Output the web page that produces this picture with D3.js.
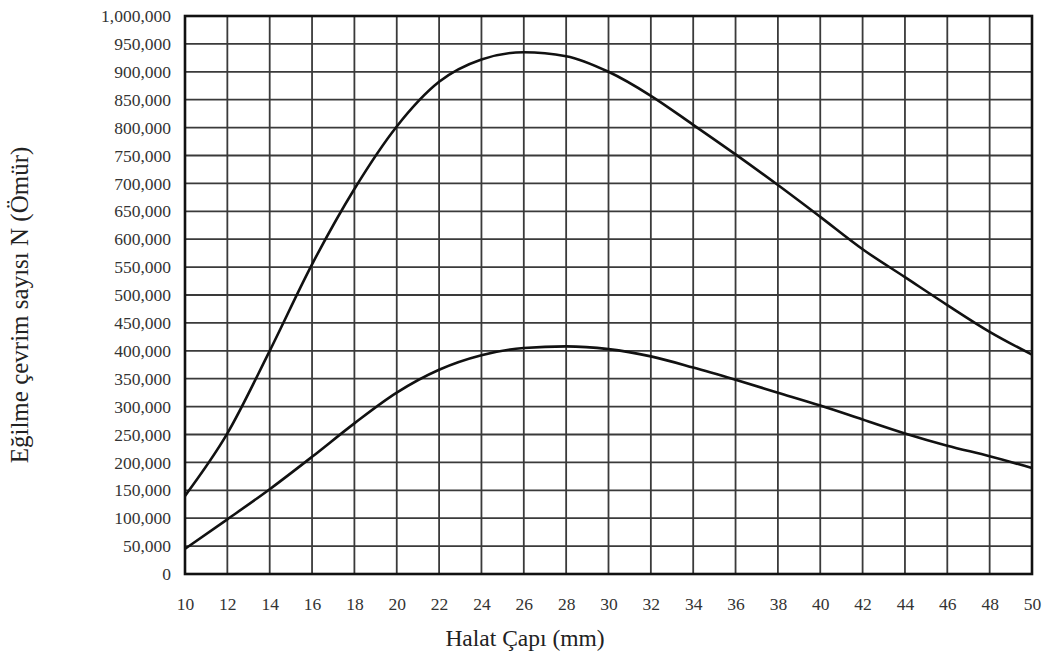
<!DOCTYPE html>
<html><head><meta charset="utf-8">
<script src="https://cdn.jsdelivr.net/npm/d3@7"></script>
<style>body{margin:0;background:#fff;}</style>
</head><body>
<svg id="c" width="1046" height="657"></svg>
<script>
const diameters = [10,12,14,16,18,20,22,24,26,28,30,32,34,36,38,40,42,44,46,48,50];
const upperCurve = [140000,252000,400000,555000,690000,802000,882000,922000,935000,928000,900000,857000,805000,752000,697000,640000,582000,532000,482000,434000,393000];
const lowerCurve = [45000,98000,152000,210000,270000,325000,366000,392000,405000,408000,403000,390000,370000,348000,325000,302000,277000,252000,230000,211000,190000];
const xTicks = d3.range(10, 51, 2);
const yTicks = d3.range(0, 1000001, 50000);
const xTitle = "Halat Çapı (mm)";
const yTitle = "Eğilme çevrim sayısı N (Ömür)";

const SERIF = "'Liberation Serif', serif";
const svg = d3.select("#c");
const L = 185, R = 1032, T = 16, B = 574;
const x = d3.scaleLinear().domain([10,50]).range([L,R]);
const y = d3.scaleLinear().domain([0,1000000]).range([B,T]);
const fmt = d3.format(",");

// grid
svg.append("g").selectAll("line").data(xTicks).join("line")
  .attr("x1", d=>x(d)).attr("x2", d=>x(d)).attr("y1", T).attr("y2", B)
  .attr("stroke", "#3a3a3a").attr("stroke-width", 1.8);
svg.append("g").selectAll("line").data(yTicks).join("line")
  .attr("y1", d=>y(d)).attr("y2", d=>y(d)).attr("x1", L).attr("x2", R)
  .attr("stroke", "#3a3a3a").attr("stroke-width", 1.8);
svg.append("rect").attr("x", L).attr("y", T).attr("width", R-L).attr("height", B-T)
  .attr("fill", "none").attr("stroke", "#111").attr("stroke-width", 2.6);

// axes labels (via d3 axes, lines hidden)
const xa = svg.append("g").attr("transform", `translate(0,${B})`)
  .call(d3.axisBottom(x).tickValues(xTicks).tickSize(0).tickPadding(24).tickFormat(d3.format("d")));
const ya = svg.append("g").attr("transform", `translate(${L},0)`)
  .call(d3.axisLeft(y).tickValues(yTicks).tickSize(0).tickPadding(14).tickFormat(fmt));
[xa, ya].forEach(a => {
  a.select(".domain").remove();
  a.attr("font-family", SERIF).attr("font-size", 17.5);
  a.selectAll("text").style("font-family", SERIF, "important").style("font-size", "17.5px").attr("fill", "#333");
});

// curves
const line = d3.line().x((d,i)=>x(diameters[i])).y(d=>y(d)).curve(d3.curveMonotoneX);
[upperCurve, lowerCurve].forEach(s => {
  svg.append("path").attr("d", line(s)).attr("fill", "none").attr("stroke", "#111").attr("stroke-width", 2.6);
});

// titles
svg.append("text").attr("x", 525).attr("y", 646).attr("text-anchor", "middle").attr("fill", "#222")
  .attr("font-family", SERIF).attr("font-size", 23.5).text(xTitle);
svg.append("text").attr("transform", "translate(28,305) rotate(-90)").attr("text-anchor", "middle").attr("fill", "#222")
  .attr("font-family", SERIF).attr("font-size", 25).text(yTitle);
</script>
</body></html>
